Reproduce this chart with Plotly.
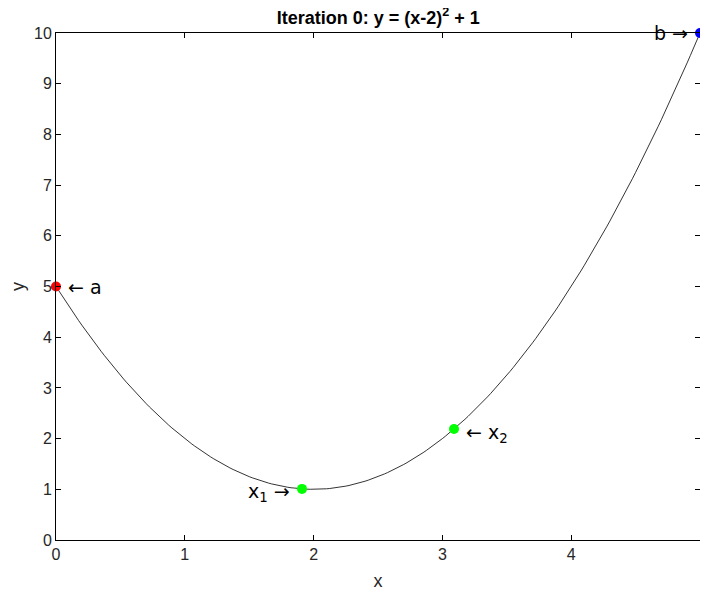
import numpy as np
import plotly.graph_objects as go

# Function from the title: y = (x-2)^2 + 1
def f(x):
    return (x - 2) ** 2 + 1

curve_x = np.linspace(0, 5, 201)
curve_y = f(curve_x)

a, b = 0.0, 5.0
x1, x2 = 1.91, 3.09
pt_a = (a, f(a)); pt_b = (b, f(b))
pt_x1 = (x1, f(x1)); pt_x2 = (x2, f(x2))

fig = go.Figure()
fig.add_trace(go.Scatter(x=curve_x, y=curve_y, mode="lines",
                         line=dict(color="black", width=0.8), showlegend=False, cliponaxis=False))
for (px, py), col in [(pt_a, "#ff0000"), (pt_b, "#0000ff"), (pt_x1, "#00ff00"), (pt_x2, "#00ff00")]:
    fig.add_trace(go.Scatter(x=[float(px)], y=[float(py)], mode="markers",
                             marker=dict(color=col, size=10), showlegend=False, cliponaxis=False))

fnt = dict(family="DejaVu Sans, Liberation Sans, Arial", size=19, color="black")
fig.add_annotation(x=pt_a[0], y=pt_a[1], text="\u2190 a", showarrow=False, xanchor="left", xshift=10, font=fnt)
fig.add_annotation(x=pt_b[0], y=pt_b[1], text="b \u2192", showarrow=False, xanchor="right", xshift=-10, font=fnt)
fig.add_annotation(x=pt_x1[0], y=pt_x1[1], text="x<sub>1</sub> \u2192", showarrow=False, xanchor="right", xshift=-10, yshift=-4, font=fnt)
fig.add_annotation(x=pt_x2[0], y=pt_x2[1], text="\u2190 x<sub>2</sub>", showarrow=False, xanchor="left", xshift=10, yshift=-4, font=fnt)

axis = dict(showgrid=False, zeroline=False, showline=True, linecolor="black", linewidth=1,
            mirror="ticks", ticks="inside", ticklen=5, tickcolor="black",
            tickfont=dict(family="Liberation Sans, Arial", size=16, color="#262626"))
fig.update_xaxes(range=[0, 5], dtick=1, title=dict(text="x", font=dict(size=18, color="#262626"), standoff=12), **axis)
fig.update_yaxes(range=[0, 10], dtick=1, title=dict(text="y", font=dict(size=18, color="#262626"), standoff=12), **axis)
fig.update_layout(
    width=692, height=584, plot_bgcolor="white", paper_bgcolor="white",
    margin=dict(l=48, r=0, t=25, b=52),
    font=dict(family="Liberation Sans, Arial"),
    title=dict(text="<b>Iteration 0: y = (x-2)<sup>2</sup> + 1</b>", x=0.535, xanchor="center",
               y=0.995, yanchor="top", font=dict(size=18, color="black")),
)
fig.write_html("out.html")
